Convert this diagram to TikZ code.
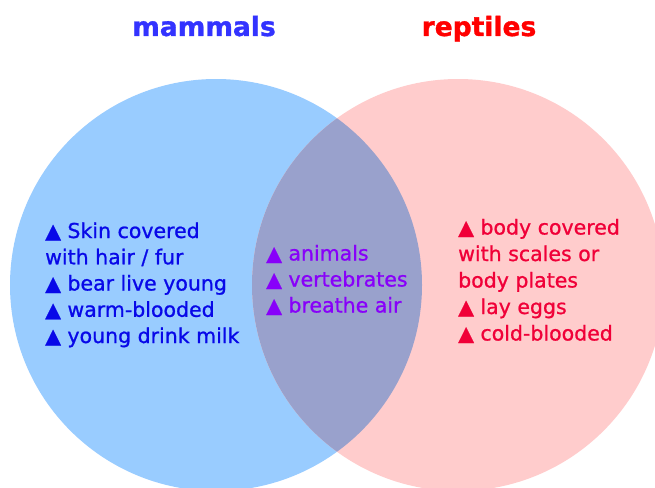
\documentclass[tikz,border=0pt]{standalone}
\usepackage{fontspec}
\setmainfont{DejaVu Sans}
\newfontfamily\bodyfont[FakeBold=0.9]{DejaVu Sans}
\newfontfamily\titlefont[FakeBold=1.2]{DejaVu Sans Bold}
\definecolor{bluefill}{RGB}{153,204,255}
\definecolor{pinkfill}{RGB}{255,204,204}
\definecolor{lensfill}{RGB}{153,161,204}
\definecolor{mamtitle}{RGB}{51,51,255}
\definecolor{reptitle}{RGB}{255,0,0}
\definecolor{mamcol}{RGB}{8,8,232}
\definecolor{bothcol}{RGB}{136,0,250}
\definecolor{repcol}{RGB}{240,0,56}
\begin{document}
\begin{tikzpicture}[x=1pt,y=-1pt,
  titletxt/.style={anchor=base, inner sep=0pt, font=\titlefont\fontsize{26.5}{30}\selectfont},
  bodytxt/.style={anchor=base west, inner sep=0pt, font=\bodyfont\fontsize{20.5}{26}\selectfont}]
\useasboundingbox (0,0) rectangle (655,487);
\fill[white] (0,0) rectangle (655,487);
\fill[bluefill] (216,285) circle[radius=206pt];
\fill[pinkfill] (458,285) circle[radius=206pt];
\begin{scope}
  \clip (216,285) circle[radius=206pt];
  \fill[lensfill] (458,285) circle[radius=206pt];
\end{scope}
\node[titletxt, text=mamtitle] (tm) at (204,36) {mammals};
\node[titletxt, text=reptitle] (tr) at (479,36) {reptiles};
% mammals
\node[bodytxt, text=mamcol] (m1) at (45,238) {▲ Skin covered};
\node[bodytxt, text=mamcol] (m2) at (45,264.3) {with hair / fur};
\node[bodytxt, text=mamcol] (m3) at (45,290.5) {▲ bear live young};
\node[bodytxt, text=mamcol] (m4) at (45,316.8) {▲ warm-blooded};
\node[bodytxt, text=mamcol] (m5) at (45,343) {▲ young drink milk};
% both
\node[bodytxt, text=bothcol] (b1) at (266,260.5) {▲ animals};
\node[bodytxt, text=bothcol] (b2) at (266,286.5) {▲ vertebrates};
\node[bodytxt, text=bothcol] (b3) at (266,312.5) {▲ breathe air};
% reptiles
\node[bodytxt, text=repcol] (r1) at (458,234.5) {▲ body covered};
\node[bodytxt, text=repcol] (r2) at (458,261) {with scales or};
\node[bodytxt, text=repcol] (r3) at (458,287.5) {body plates};
\node[bodytxt, text=repcol] (r4) at (458,314) {▲ lay eggs};
\node[bodytxt, text=repcol] (r5) at (458,340.5) {▲ cold-blooded};
\end{tikzpicture}
\end{document}
